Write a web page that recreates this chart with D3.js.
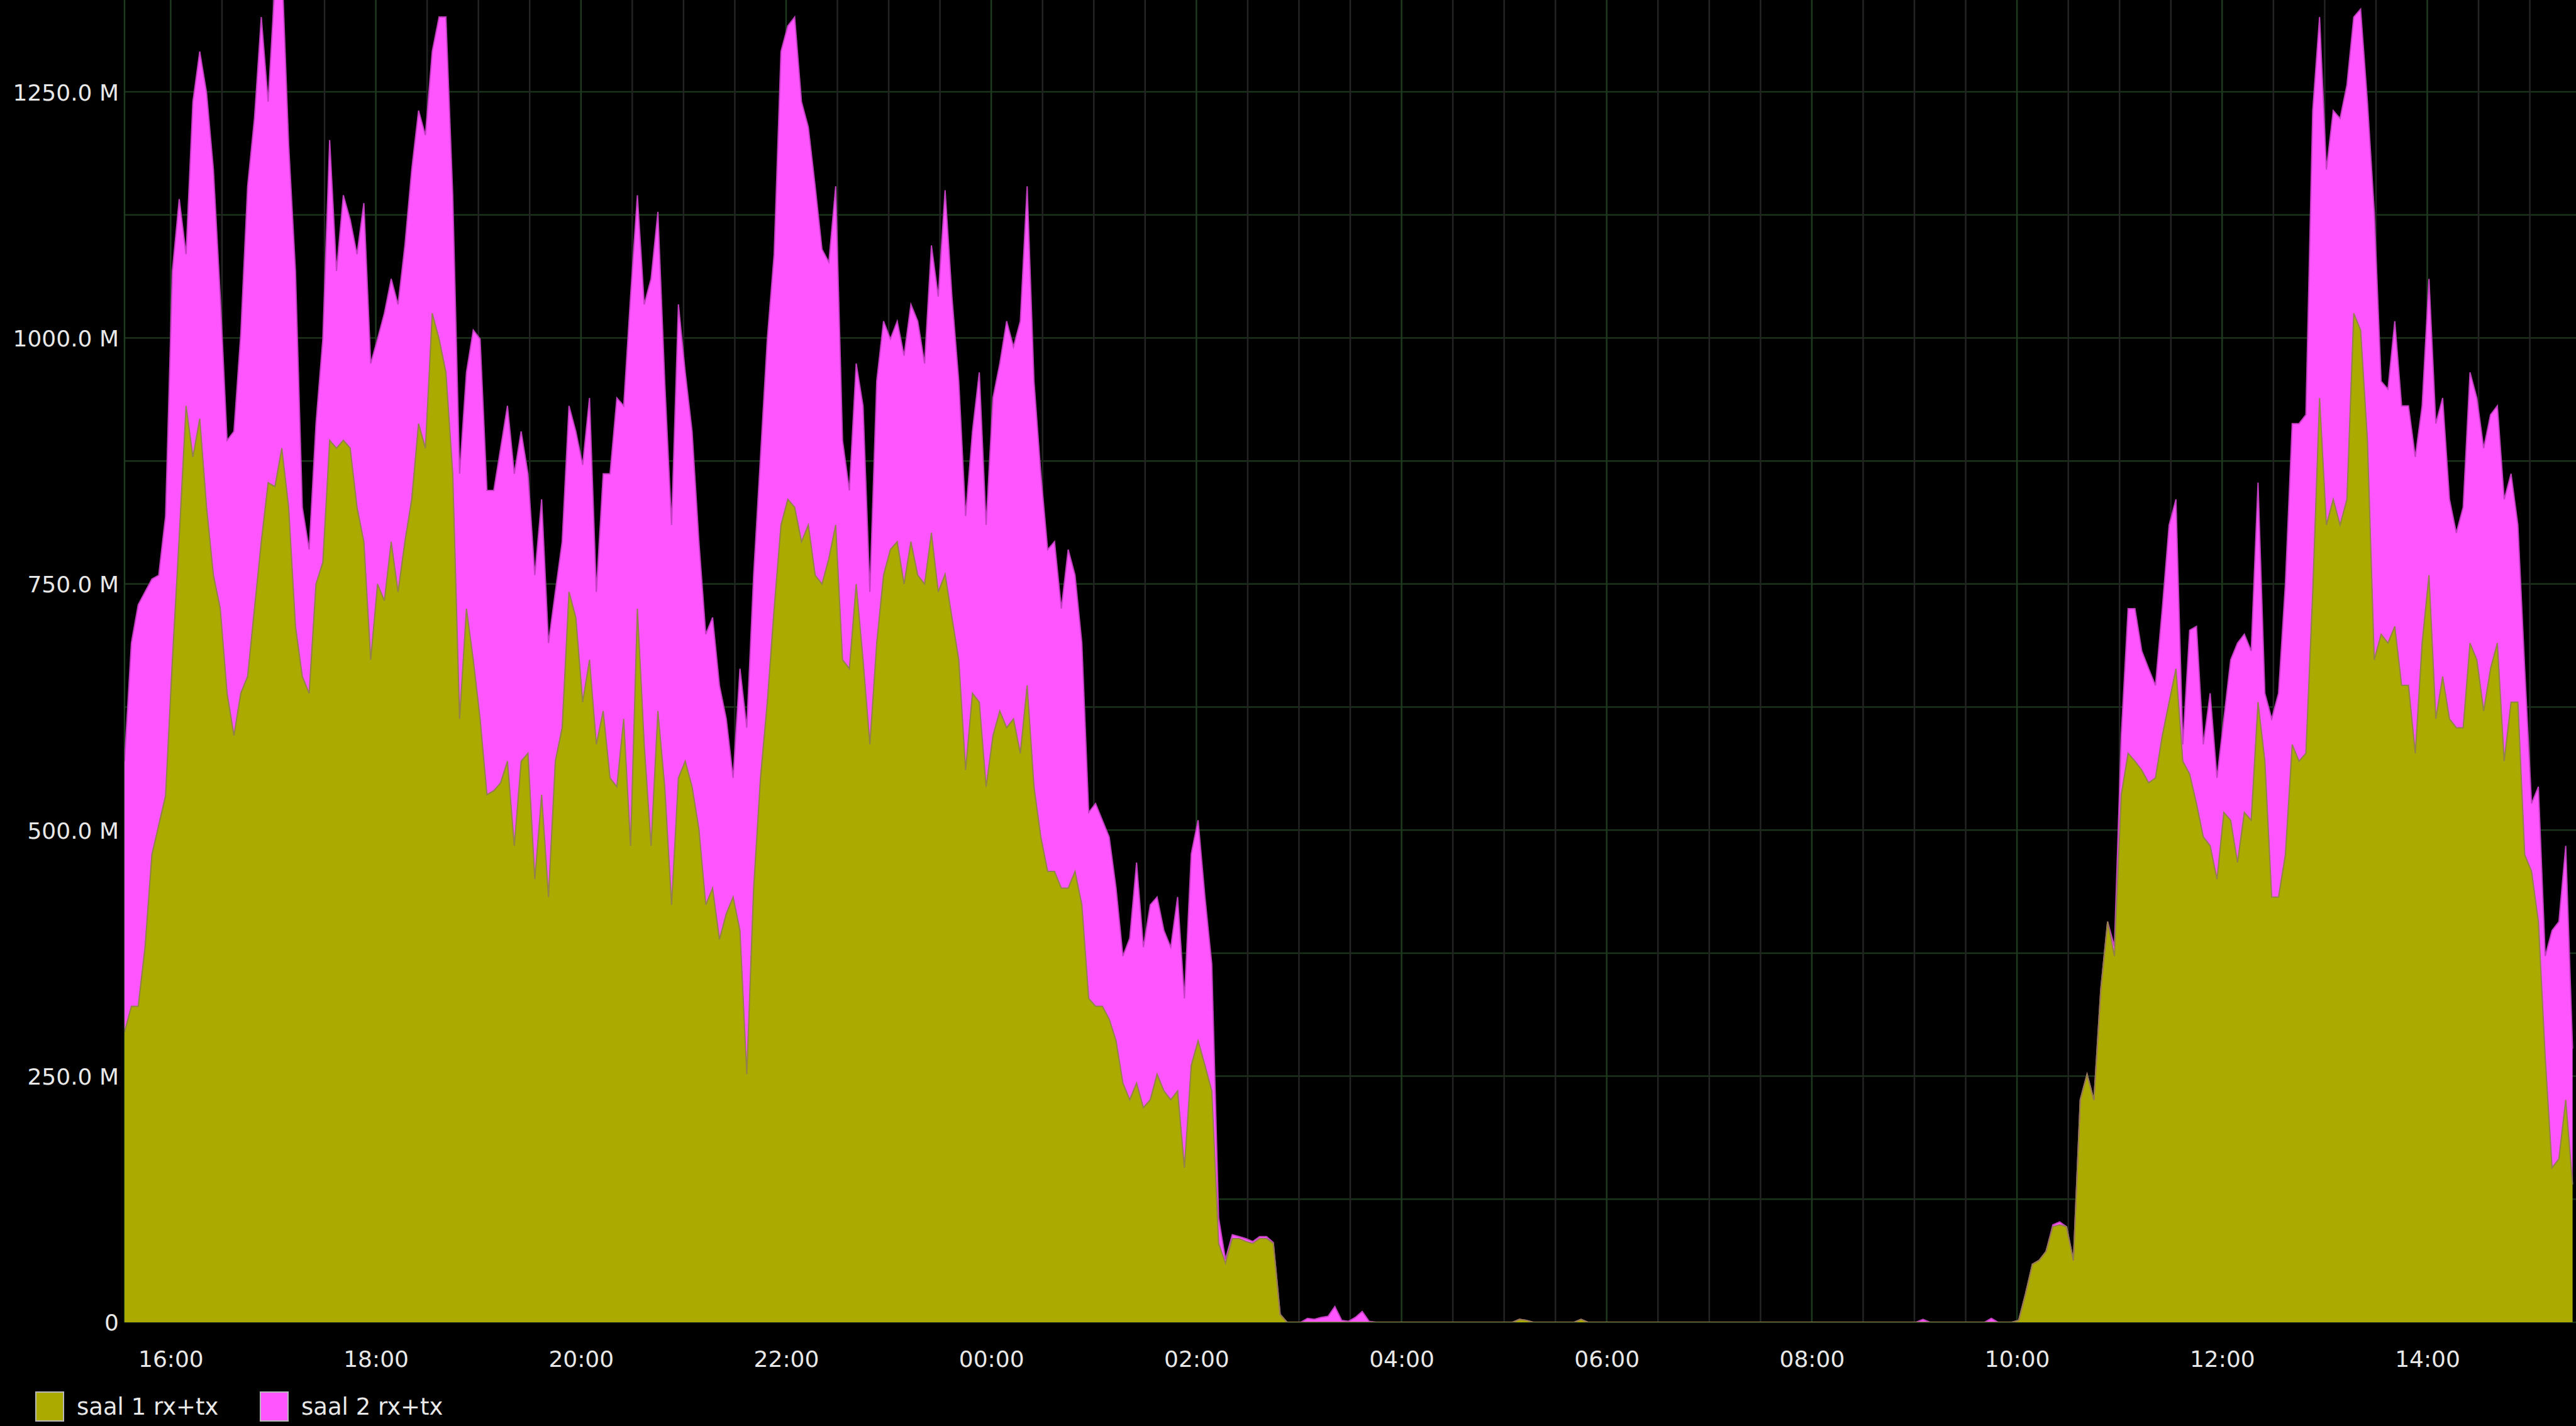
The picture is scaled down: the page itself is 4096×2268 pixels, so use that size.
<!DOCTYPE html>
<html>
<head>
<meta charset="utf-8">
<script src="https://cdn.jsdelivr.net/npm/d3@7"></script>
<style>
  html, body { margin: 0; padding: 0; background: #000; }
  svg { display: block; }
  text { font-family: "DejaVu Sans", sans-serif; fill: #e8e8e8; }
</style>
</head>
<body>
<svg id="chart" width="4096" height="2268"></svg>
<script>
// samples every 4 minutes, starting 15:33
const START = "2015-12-27T15:33:00";
const STEP_MINUTES = 4;

const seriesNames = ["saal 1 rx+tx", "saal 2 rx+tx"];
const seriesColors = ["#aaaa00", "#ff55ff"];
const yTicks = [0, 250, 500, 750, 1000, 1250];

// saal 1 rx+tx, in M
const saal1 = [
  295, 321, 321, 381, 475, 505, 535, 673, 798, 931,
  879, 918, 828, 759, 725, 639, 596, 639, 656, 725,
  793, 853, 849, 888, 828, 707, 656, 639, 750, 772,
  896, 888, 896, 888, 828, 793, 673, 750, 733, 793,
  742, 793, 836, 913, 888, 1025, 999, 965, 862, 613,
  725, 673, 613, 536, 540, 548, 570, 484, 570, 578,
  450, 536, 432, 570, 604, 742, 716, 630, 673, 587,
  621, 553, 544, 613, 484, 725, 587, 484, 621, 544,
  424, 553, 570, 544, 501, 424, 441, 389, 415, 432,
  398, 252, 441, 553, 630, 725, 810, 836, 828, 793,
  810, 759, 750, 776, 810, 673, 664, 750, 673, 587,
  690, 759, 785, 793, 750, 793, 759, 750, 802, 742,
  760, 716, 673, 561, 639, 630, 544, 596, 621, 604,
  613, 578, 647, 544, 493, 458, 458, 441, 441, 458,
  424, 329, 321, 321, 308, 286, 243, 226, 243, 218,
  226, 252, 235, 226, 235, 157, 261, 286, 261, 235,
  80, 60, 85, 85, 82, 80, 85, 85, 80, 8,
  0, 0, 0, 0, 0, 0, 0, 0, 0, 0,
  0, 0, 0, 0, 0, 0, 0, 0, 0, 0,
  0, 0, 0, 0, 0, 0, 0, 0, 0, 0,
  0, 0, 0, 0, 3, 2, 0, 0, 0, 0,
  0, 0, 0, 3, 0, 0, 0, 0, 0, 0,
  0, 0, 0, 0, 0, 0, 0, 0, 0, 0,
  0, 0, 0, 0, 0, 0, 0, 0, 0, 0,
  0, 0, 0, 0, 0, 0, 0, 0, 0, 0,
  0, 0, 0, 0, 0, 0, 0, 0, 0, 0,
  0, 0, 0, 0, 0, 0, 0, 0, 0, 0,
  0, 0, 0, 0, 0, 0, 0, 2, 29, 59,
  63, 72, 97, 99, 97, 63, 226, 252, 226, 338,
  407, 372, 536, 578, 570, 561, 548, 553, 596, 630,
  664, 570, 557, 527, 493, 484, 450, 518, 510, 467,
  518, 510, 630, 570, 432, 432, 475, 587, 570, 578,
  742, 939, 810, 836, 810, 836, 1025, 1008, 896, 673,
  699, 690, 707, 647, 647, 578, 690, 759, 613, 656,
  613, 604, 604, 690, 673, 621, 664, 690, 570, 630,
  630, 475, 458, 407, 269, 157, 166, 226, 140
];

// saal 2 rx+tx, in M
const saal2 = [
  275, 369, 408, 361, 280, 254, 284, 395, 343, 154,
  361, 373, 421, 412, 317, 257, 309, 365, 498, 498,
  533, 387, 511, 492, 369, 361, 172, 146, 163, 227,
  305, 180, 249, 232, 257, 344, 301, 249, 292, 267,
  292, 301, 335, 318, 318, 266, 327, 361, 283, 249,
  240, 335, 386, 309, 305, 340, 361, 378, 335, 284,
  309, 300, 258, 172, 189, 189, 189, 241, 266, 155,
  241, 309, 395, 318, 558, 420, 447, 576, 507, 412,
  386, 481, 395, 361, 292, 275, 275, 258, 198, 121,
  266, 352, 318, 326, 369, 360, 481, 481, 498, 447,
  404, 395, 340, 301, 344, 223, 181, 224, 258, 155,
  266, 258, 214, 224, 232, 241, 258, 224, 292, 300,
  390, 326, 283, 258, 266, 335, 266, 343, 353, 413,
  378, 439, 507, 412, 369, 327, 335, 284, 344, 301,
  266, 189, 206, 189, 185, 155, 129, 164, 224, 163,
  198, 180, 163, 155, 197, 172, 215, 224, 171, 129,
  26, 4, 4, 2, 3, 2, 2, 2, 1, 0,
  0, 0, 0, 4, 3, 5, 6, 16, 2, 1,
  5, 11, 1, 0, 0, 0, 0, 0, 0, 0,
  0, 0, 0, 0, 0, 0, 0, 0, 0, 0,
  0, 0, 0, 0, 0, 0, 0, 0, 0, 0,
  0, 0, 0, 0, 0, 0, 0, 0, 0, 0,
  0, 0, 0, 0, 0, 0, 0, 0, 0, 0,
  0, 0, 0, 0, 0, 0, 0, 0, 0, 0,
  0, 0, 0, 0, 0, 0, 0, 0, 0, 0,
  0, 0, 0, 0, 0, 0, 0, 0, 0, 0,
  0, 0, 0, 3, 0, 0, 0, 0, 0, 0,
  0, 0, 0, 4, 0, 0, 0, 0, 0, 0,
  0, 0, 2, 3, 0, 0, 0, 0, 0, 0,
  0, 10, 60, 147, 155, 121, 116, 94, 129, 180,
  172, 17, 146, 180, 94, 155, 103, 95, 163, 223,
  181, 172, 223, 69, 181, 207, 275, 326, 343, 344,
  489, 387, 361, 395, 413, 421, 301, 326, 344, 455,
  257, 258, 310, 284, 284, 301, 241, 301, 300, 283,
  223, 198, 224, 275, 266, 267, 258, 241, 266, 232,
  180, 189, 69, 137, 103, 241, 241, 258, 138
];

const svg = d3.select("#chart");
const width = 4096;
const height = 2268;
const margin = { left: 198, bottom: 2103 };

const start = new Date(START);
const rows = saal1.map((v, i) => ({
  time: d3.timeMinute.offset(start, i * STEP_MINUTES),
  s1: v,
  s2: saal2[i],
}));

const t16 = d3.timeMinute.offset(start, 27);
const x = d3
  .scaleTime()
  .domain([start, d3.timeMinute.offset(t16, 1407)])
  .range([margin.left, width]);

const y = d3.scaleLinear().domain([0, 1343.3]).range([margin.bottom, 0]);

// grid
const grid = svg.append("g");
grid
  .selectAll(".hgrid")
  .data(d3.range(0, 1300, 125))
  .enter()
  .append("line")
  .attr("x1", margin.left)
  .attr("x2", width)
  .attr("y1", (d) => y(d))
  .attr("y2", (d) => y(d))
  .attr("stroke", "#1b321b")
  .attr("stroke-width", 2.5);

grid
  .selectAll(".vgrid")
  .data(x.ticks(d3.timeMinute.every(30)))
  .enter()
  .append("line")
  .attr("x1", (d) => x(d))
  .attr("x2", (d) => x(d))
  .attr("y1", 0)
  .attr("y2", margin.bottom)
  .attr("stroke", (d) =>
    d.getMinutes() === 0 && d.getHours() % 2 === 0 ? "#1f3b1f" : "#242424"
  )
  .attr("stroke-width", 2.5);

grid
  .append("line")
  .attr("x1", margin.left)
  .attr("x2", margin.left)
  .attr("y1", 0)
  .attr("y2", margin.bottom)
  .attr("stroke", "#1f3b1f")
  .attr("stroke-width", 2.5);

// stacked areas
const stack = d3.stack().keys(["s1", "s2"]);
const layers = stack(rows);

svg
  .append("clipPath")
  .attr("id", "plot-clip")
  .append("rect")
  .attr("x", margin.left)
  .attr("y", 0)
  .attr("width", width - margin.left)
  .attr("height", margin.bottom);

const area = d3
  .area()
  .x((d) => x(d.data.time))
  .y0((d) => y(d[0]))
  .y1((d) => y(d[1]));

const topLine = d3
  .line()
  .x((d) => x(d.data.time))
  .y((d) => y(d[1]));

const plot = svg.append("g").attr("clip-path", "url(#plot-clip)");

plot
  .selectAll(".layer")
  .data(layers)
  .enter()
  .append("path")
  .attr("d", area)
  .attr("fill", (d, i) => seriesColors[i]);

const edgeColors = ["#93804a", "#c23fc2"];
plot
  .selectAll(".edge")
  .data(layers.slice().reverse())
  .enter()
  .append("path")
  .attr("d", topLine)
  .attr("fill", "none")
  .attr("stroke", (d) => edgeColors[d.index])
  .attr("stroke-width", 2);

// axes
const yAxis = svg
  .append("g")
  .attr("transform", `translate(${margin.left - 9},0)`)
  .call(
    d3
      .axisLeft(y)
      .tickValues(yTicks)
      .tickSize(0)
      .tickPadding(0)
      .tickFormat((d) => (d === 0 ? "0" : d.toFixed(1) + " M"))
  );
yAxis.select(".domain").remove();
yAxis
  .selectAll("text")
  .attr("font-size", 36)
  .attr("font-family", "DejaVu Sans")
  .attr("fill", "#e8e8e8")
  .attr("dy", "0.36em");

const xAxis = svg
  .append("g")
  .attr("transform", `translate(0,${margin.bottom})`)
  .call(
    d3
      .axisBottom(x)
      .ticks(d3.timeHour.every(2))
      .tickSize(0)
      .tickPadding(0)
      .tickFormat(d3.timeFormat("%H:%M"))
  );
xAxis.select(".domain").remove();
xAxis
  .selectAll("text")
  .attr("font-size", 36)
  .attr("font-family", "DejaVu Sans")
  .attr("fill", "#e8e8e8")
  .attr("y", 58)
  .attr("dy", "0.36em");

// legend
const legendX = [57, 414];
const legend = svg
  .selectAll(".legend")
  .data(seriesNames)
  .enter()
  .append("g")
  .attr("transform", (d, i) => `translate(${legendX[i]},2214)`);

legend
  .append("rect")
  .attr("width", 44)
  .attr("height", 46)
  .attr("fill", (d, i) => seriesColors[i])
  .attr("stroke", "#b8b8b8")
  .attr("stroke-width", 2);

legend
  .append("text")
  .attr("x", 65)
  .attr("y", 23)
  .attr("dy", "0.36em")
  .attr("font-size", 37)
  .text((d) => d);
</script>
</body>
</html>
